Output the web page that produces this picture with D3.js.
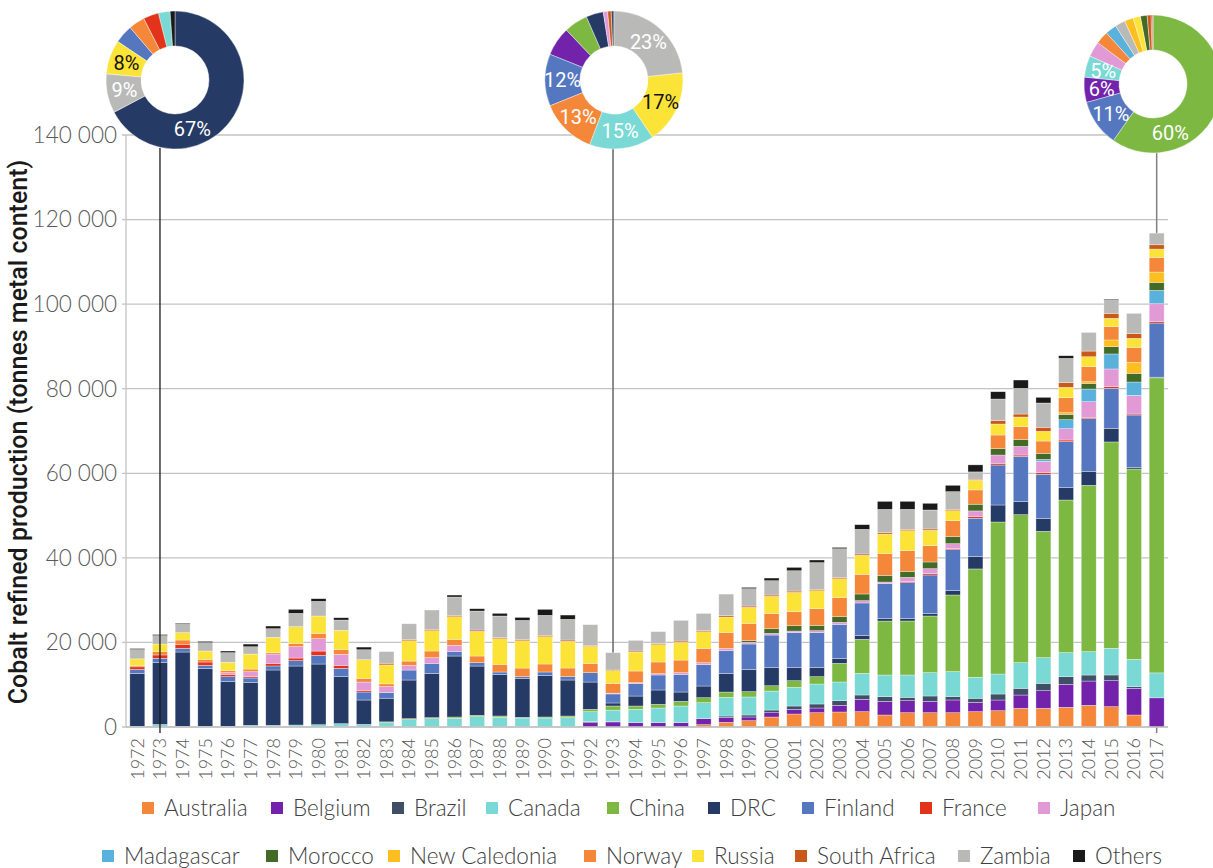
<!DOCTYPE html>
<html><head><meta charset="utf-8">
<script src="https://cdn.jsdelivr.net/npm/d3@7"></script>
<style>
html,body{margin:0;padding:0;background:#fff;}
svg{display:block;font-family:Roboto,"Open Sans",sans-serif;}
.light{font-family:Lato,Roboto,sans-serif;font-weight:300;}
</style></head><body>
<svg id="chart" width="1213" height="868"></svg>
<script>
// ---------- DATA ----------
const years = ["1972","1973","1974","1975","1976","1977","1978","1979","1980","1981",
  "1982","1983","1984","1985","1986","1987","1988","1989","1990","1991",
  "1992","1993","1994","1995","1996","1997","1998","1999","2000","2001",
  "2002","2003","2004","2005","2006","2007","2008","2009","2010","2011",
  "2012","2013","2014","2015","2016","2017"];
const countries = ["Australia","Belgium","Brazil","Canada","China","DRC","Finland","France","Japan",
  "Madagascar","Morocco","New Caledonia","Norway","Russia","South Africa","Zambia","Others"];
const countryColors = ["#F5873A","#7222AB","#3F4F67","#7AD9D4","#7DB843","#263A66","#5577BF","#E3331A","#E29AD6",
  "#59B1DC","#436B27","#FDBF1F","#F5873A","#FCE337","#C9591A","#B9BAB8","#1A1A1A"];

// tonnes metal content, 1972..2017
const australia = [0,0,0,0,0,0,0,0,0,0, 0,0,0,0,0,0,0,0,0,0, 0,0,0,0,0,550,1100,1500,2360,3070,
  3390,3550,3630,2840,3390,3390,3390,3630,3860,4410, 4410,4650,5120,4810,2840,0];
const belgium = [0,0,0,0,0,0,0,0,0,0, 0,0,0,0,0,0,0,0,0,0, 1020,1200,1020,1020,1020,1420,1180,870,1020,1100,
  1100,1580,2920,3230,2840,2680,3000,2210,2520,3150, 4180,5440,5750,6150,6310,6900];
const brazil = [0,0,0,0,0,0,0,0,0,0, 0,0,0,0,0,0,0,0,0,0, 240,120,0,0,0,0,315,470,630,790,
  950,1100,1020,1100,790,1260,790,950,1420,1580, 1730,1810,1420,1340,390,0];
const canada = [150,600,160,160,160,400,400,470,550,790, 630,1020,1730,1970,2050,2440,2290,2130,2130,2210,
  2360,2670,3150,3470,3940,3780,4410,4260,4490,4410, 4730,4410,5120,5120,5280,5520,5910,4970,4730,6070,
  6070,5680,5520,6310,6460,5900];
const china = [0,0,0,0,0,0,0,0,0,0, 0,200,240,240,315,315,315,150,240,390, 550,980,790,870,1100,1180,1260,1260,1260,1580,
  1730,4410,8040,12770,12770,13400,18130,25620,35950,35000, 29880,36100,39340,48800,45010,69770];
const drc = [12500,14700,17570,13630,10640,10090,13080,13950,14340,11110, 5750,5590,9140,10480,14420,11660,9770,9140,9850,8510,
  6460,710,2360,3390,2210,2760,4410,5280,4260,3070, 2210,1180,870,630,630,630,1020,2920,4020,3070,
  3000,2920,3230,3230,390,160];
const finland = [950,950,870,790,1100,1100,950,1260,2050,1970, 1890,1340,2360,2360,1100,790,630,470,790,790,
  2210,2140,2920,3550,4180,5040,5360,5990,7730,8280, 8200,8040,7730,8200,8430,9070,9700,9070,9460,10720,
  10480,10880,12530,9460,12380,12800];
const france = [630,790,950,790,550,300,630,630,1020,710, 390,0,0,0,0,0,0,0,0,0, 0,0,0,0,0,0,0,0,0,0,
  0,0,0,0,240,315,240,390,390,315, 390,390,315,390,240,390];
const japan = [0,0,0,0,400,1180,2200,2680,2920,2600, 1970,1420,1100,1340,1420,0,0,0,0,0, 0,180,240,315,390,470,550,390,390,390,
  470,470,550,390,1020,1180,1180,1340,1970,2050, 2680,2680,3700,4180,4410,4180];
const madagascar = [0,0,0,0,0,0,0,0,0,0, 0,0,0,0,0,0,0,0,0,0, 0,0,0,0,0,0,0,0,0,0,
  0,0,0,0,0,0,0,0,0,0, 470,2130,3000,3550,3150,3150];
const morocco = [0,0,0,0,0,0,0,0,0,0, 0,0,0,0,0,0,0,0,0,0, 0,0,0,0,0,0,0,390,1100,1260,
  1260,1340,1580,1580,1420,1580,1660,1580,1500,1580, 1420,1260,1340,1730,2050,1890];
const newCaledonia = [0,0,0,0,0,0,0,0,0,0, 0,0,0,0,0,0,0,0,0,0, 0,0,0,0,0,0,0,0,0,0,
  0,0,0,0,0,0,0,0,0,0, 0,390,390,1580,2600,2440];
const norway = [300,820,1020,630,470,630,315,790,1260,1180, 870,630,1020,1580,1420,1580,1810,2050,1890,2050,
  2210,2310,2760,2760,2990,3390,3780,4100,3630,3310, 3940,4570,4650,5200,4890,3860,3780,3390,3230,3070,
  2920,3550,3550,3150,3550,3470];
const russia = [1580,1750,1730,1970,1970,3550,3620,3940,4100,4490, 4410,4490,4810,4810,5360,5830,6070,6460,6460,6300,
  4020,3030,4490,4100,4180,3940,3630,3780,4020,4570, 4260,4410,4490,4570,4730,3630,2360,2290,2600,2290,
  2290,2440,2360,1970,2130,1970];
const southAfrica = [0,0,0,0,0,0,0,0,0,0, 0,390,315,315,315,315,240,315,315,315, 240,140,240,240,315,315,315,315,315,315,
  315,315,315,315,315,315,315,240,790,710, 950,1100,1340,1180,1100,1020];
const zambia = [2200,2000,1970,1970,2290,1730,2050,3150,3470,2440, 2360,2760,3700,4570,4330,4490,5120,4490,4730,4890,
  4890,4100,2520,2840,4890,4020,5120,4100,3390,4810, 6310,6780,5830,5520,4730,4490,4180,1730,5120,6070,
  5750,5750,4410,3070,4810,2760];
const others = [240,250,240,315,390,630,630,950,630,550, 630,0,0,0,470,550,630,710,1420,1020, 0,0,0,0,0,0,0,315,630,790,
  630,315,1100,1890,1890,1580,1500,1660,1730,1970, 1340,630,0,240,0,0];

const yTicks = [0,20000,40000,60000,80000,100000,120000,140000];
const donutYears = ["1973","1993","2017"];
const donutLabelMin = [0.075, 0.11, 0.045];

// ---------- BUILD ----------
const seriesArrays = [australia,belgium,brazil,canada,china,drc,finland,france,japan,
  madagascar,morocco,newCaledonia,norway,russia,southAfrica,zambia,others];
const rows = years.map((y,i) => {
  const r = {year:y};
  countries.forEach((c,k) => r[c] = seriesArrays[k][i]);
  return r;
});
const colorOf = d3.scaleOrdinal().domain(countries).range(countryColors);

const svg = d3.select("#chart");
const plot = {left:126, right:1168, top:135, bottom:727};

const x = d3.scaleBand().domain(years).range([plot.left, plot.right]).paddingInner(0.34).paddingOuter(0.17);
const y = d3.scaleLinear().domain([0,140000]).range([plot.bottom, plot.top]);

// gridlines
svg.append("g").selectAll("line").data(yTicks).join("line")
  .attr("x1", plot.left-4).attr("x2", plot.right)
  .attr("y1", d=>y(d)).attr("y2", d=>y(d))
  .attr("stroke", "#c3c3c3").attr("stroke-width", 1.3);
svg.append("line").attr("x1",plot.left).attr("x2",plot.left).attr("y1",plot.top).attr("y2",plot.bottom)
  .attr("stroke","#c3c3c3").attr("stroke-width",1.3);

// y tick labels
svg.append("g").selectAll("text").data(yTicks).join("text")
  .attr("class","light")
  .attr("x", 117).attr("y", d=>y(d)).attr("dy","0.35em")
  .attr("text-anchor","end").attr("font-size",22.5).attr("fill","#595959")
  .text(d => d3.format(",")(d).replace(/,/g," "));

// y title
svg.append("text").attr("transform","translate(27,432) rotate(-90)")
  .attr("text-anchor","middle").attr("font-size",25).attr("font-weight",500).attr("fill","#1a1a1a")
  .text("Cobalt refined production (tonnes metal content)");

// donut geometry (layout)
const donutCenters = [[175,80],[614,80],[1153,84]];
const rOuter = 69, rInner = 34;

// leader lines
const leaderStyle = [
  {front:true, end:733, color:"#1a1a1a", w:1.3},
  {front:false, end:727, color:"#666", w:1.5},
  {front:false, end:733, color:"#808080", w:1.5}
];
function drawLeader(g, i){
  const yr = donutYears[i], s = leaderStyle[i];
  const cx = x(yr) + x.bandwidth()/2;
  g.append("line").attr("x1",cx).attr("x2",cx)
    .attr("y1", donutCenters[i][1]+rOuter-1).attr("y2", s.end)
    .attr("stroke", s.color).attr("stroke-width", s.w);
}
const backLeaders = svg.append("g");
donutYears.forEach((yr,i)=>{ if(!leaderStyle[i].front) drawLeader(backLeaders,i); });

// stacked bars
const stack = d3.stack().keys(countries)(rows);
svg.append("g").selectAll("g").data(stack).join("g")
  .attr("fill", d => colorOf(d.key))
  .selectAll("rect").data(d => d.filter(p => p[1]-p[0] > 0)).join("rect")
  .attr("x", d => x(d.data.year)).attr("width", x.bandwidth())
  .attr("y", d => y(d[1])).attr("height", d => y(d[0]) - y(d[1]))
  .attr("stroke","#ffffff").attr("stroke-width",0.6).attr("stroke-opacity",0.55);

// baseline
svg.append("line").attr("x1",plot.left).attr("x2",plot.right).attr("y1",plot.bottom).attr("y2",plot.bottom)
  .attr("stroke","#c3c3c3").attr("stroke-width",1.3);

const frontLeaders = svg.append("g");
donutYears.forEach((yr,i)=>{ if(leaderStyle[i].front) drawLeader(frontLeaders,i); });

// x labels
svg.append("g").selectAll("text").data(years).join("text")
  .attr("class","light")
  .attr("transform", d => `translate(${x(d)+x.bandwidth()/2},738) rotate(-90)`)
  .attr("dy","0.35em").attr("text-anchor","end")
  .attr("font-size",18).attr("fill","#595959")
  .text(d=>d);

// donuts
const arc = d3.arc().innerRadius(rInner).outerRadius(rOuter);
const pie = d3.pie().value(d=>d.value).sort((a,b)=>b.value-a.value);
donutYears.forEach((yr,i) => {
  const r = rows.find(d=>d.year===yr);
  const data = countries.map(c => ({key:c, value:r[c]})).filter(d=>d.value>0);
  const total = d3.sum(data, d=>d.value);
  const g = svg.append("g").attr("transform", `translate(${donutCenters[i][0]},${donutCenters[i][1]})`);
  const arcs = pie(data);
  g.selectAll("path").data(arcs).join("path")
    .attr("d", arc).attr("fill", d=>colorOf(d.data.key))
    .attr("stroke","#fff").attr("stroke-width",0.4);
  const lr = (rInner + rOuter)/2;
  const labAng = a => (a.endAngle-a.startAngle) > Math.PI ? 2.8 : (a.startAngle+a.endAngle)/2;
  g.selectAll("text").data(arcs.filter(a => a.data.value/total >= donutLabelMin[i])).join("text")
    .attr("x", a => lr*Math.sin(labAng(a)))
    .attr("y", a => -lr*Math.cos(labAng(a)))
    .attr("dy","0.36em").attr("text-anchor","middle")
    .attr("font-size",20).attr("font-weight",400)
    .attr("fill", a => a.data.key === "Russia" ? "#111" : "#fff")
    .text(a => Math.round(a.data.value/total*100) + "%");
});

// legend (layout positions)
const legendRows = [
  {y:808, items:[["Australia",142],["Belgium",271],["Brazil",392],["Canada",486],["China",607],["DRC",708],["Finland",802],["France",920],["Japan",1038]]},
  {y:856, items:[["Madagascar",102],["Morocco",266],["New Caledonia",388],["Norway",584],["Russia",692],["South Africa",795],["Zambia",958],["Others",1073]]}
];
legendRows.forEach(row => {
  const g = svg.append("g");
  row.items.forEach(([name,lx]) => {
    g.append("rect").attr("x",lx).attr("y",row.y-6).attr("width",12).attr("height",12).attr("fill",colorOf(name));
    g.append("text").attr("class","light").attr("x",lx+22).attr("y",row.y).attr("dy","0.35em")
      .attr("font-size",22.5).attr("fill","#404040").text(name);
  });
});
</script>
</body></html>
